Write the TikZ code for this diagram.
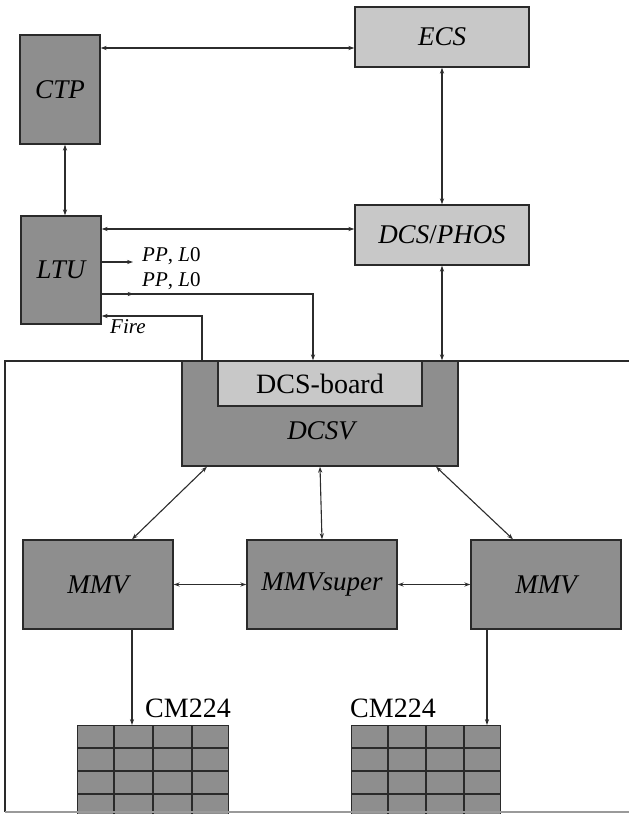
\documentclass[tikz,border=0pt]{standalone}
\usepackage{fontspec}
\setmainfont{Liberation Serif}
\usetikzlibrary{arrows.meta,decorations.markings}
\definecolor{darkbox}{HTML}{8E8E8E}
\definecolor{lightbox}{HTML}{C8C8C8}
\definecolor{edgecol}{HTML}{2A2A2A}
\definecolor{linecol}{HTML}{2C2C2C}
\definecolor{bottomcol}{HTML}{9A9A9A}
\begin{document}
\begin{tikzpicture}[x=1pt,y=-1pt,
  >={Stealth[length=6pt,width=4.2pt]},
  box/.style={draw=edgecol, line width=1.4pt, inner sep=0pt, font=\fontsize{27}{29}\selectfont\itshape},
  dbox/.style={box, fill=darkbox},
  lbox/.style={box, fill=lightbox},
  conn/.style={draw=linecol, line width=1.1pt},
  smalllab/.style={font=\fontsize{21}{23}\selectfont, inner sep=0pt, anchor=west},
  cmlab/.style={font=\fontsize{28}{30}\selectfont, inner sep=0pt},
  gridbox/.style={draw=edgecol, fill=darkbox, line width=1.4pt, inner sep=0pt, anchor=north west},
  gridline/.style={draw=edgecol, line width=1.4pt},
  midtip/.style={postaction={decorate}, decoration={markings, mark=at position 32pt with {\arrow{Stealth[length=6pt,width=4.2pt]}}}}
]
\useasboundingbox (0,0) rectangle (629,814);

% helper coordinates for connector levels
\coordinate (y48) at (0,48);
\coordinate (y229) at (0,229);
\coordinate (y262) at (0,262);
\coordinate (y294) at (0,294);
\coordinate (y316) at (0,316);
\coordinate (x65) at (65,0);
\coordinate (x132) at (132,0);
\coordinate (x202) at (202,0);
\coordinate (x207) at (207,0);
\coordinate (x313) at (313,0);
\coordinate (x436) at (436,0);
\coordinate (x487) at (487,0);
\coordinate (x513) at (513,0);
\coordinate (pp1end) at (133,262);

% outer frame
\draw[draw=edgecol, line width=1.4pt] (640,361) -- (5,361) -- (5,812);

% top boxes
\node[dbox, minimum width=80pt, minimum height=109pt] (ctp) at (60,89.5) {CTP};
\node[dbox, minimum width=80pt, minimum height=108pt] (ltu) at (61,270) {LTU};
\node[lbox, minimum width=174pt, minimum height=60pt] (ecs) at (442,37) {ECS};
\node[lbox, minimum width=174pt, minimum height=60pt] (dcsphos) at (442,235) {\textit{DCS}\upshape/\textit{PHOS}};

% DCSV with DCS-board
\node[dbox, minimum width=276pt, minimum height=105pt] (dcsv) at (320,413.5) {};
\node[lbox, minimum width=204pt, minimum height=45pt, font=\fontsize{28}{30}\selectfont\upshape] (board) at (320,383.5) {DCS-board};
\node[font=\fontsize{27}{29}\selectfont\itshape, inner sep=0pt] (dcsvlab) at (321,431) {DCSV};

% MMV row
\node[dbox, minimum width=150pt, minimum height=89pt] (mmvL) at (98,584.5) {MMV};
\node[dbox, minimum width=150pt, minimum height=89pt] (mmvS) at (322,584.5) {MMVsuper};
\node[dbox, minimum width=150pt, minimum height=89pt] (mmvR) at (546,584.5) {MMV};

% CM224 grids
\node[gridbox, minimum width=151pt, minimum height=92pt] (gridL) at (77,725) {};
\foreach \gx in {114,153,192} \draw[gridline] (\gx,725) -- (\gx,817);
\foreach \gy in {748,771,794} \draw[gridline] (77,\gy) -- (228,\gy);
\node[gridbox, minimum width=149pt, minimum height=92pt] (gridR) at (351,725) {};
\foreach \gx in {388,426,464} \draw[gridline] (\gx,725) -- (\gx,817);
\foreach \gy in {748,771,794} \draw[gridline] (351,\gy) -- (500,\gy);
\node[cmlab] (cmL) at (188,708) {CM224};
\node[cmlab] (cmR) at (393,708) {CM224};

% bottom edge of frame
\draw[draw=bottomcol, line width=1.6pt] (5,812) -- (640,812);

% connectors
\draw[conn,<->] (ctp.east |- y48) -- (ecs.west |- y48);
\draw[conn,<->] (ctp.south -| x65) -- (ltu.north -| x65);
\draw[conn,<->] (ecs.south) -- (dcsphos.north);
\draw[conn,<->] (ltu.east |- y229) -- (dcsphos.west |- y229);
\draw[conn,<->] (dcsphos.south) -- (dcsv.north -| dcsphos.south);
\draw[conn,->] (ltu.east |- y262) -- (pp1end);
\draw[conn,->,midtip] (ltu.east |- y294) -| (board.north -| x313);
\draw[conn,->] (dcsv.north -| x202) |- (ltu.east |- y316);

\draw[conn,<->] (dcsv.south -| x207) -- (mmvL.north -| x132);
\draw[conn,<->] (dcsv.south) -- (mmvS.north);
\draw[conn,<->] (dcsv.south -| x436) -- (mmvR.north -| x513);
\draw[conn,<->] (mmvL.east) -- (mmvS.west);
\draw[conn,<->] (mmvS.east) -- (mmvR.west);
\draw[conn,->] (mmvL.south -| x132) -- (gridL.north -| x132);
\draw[conn,->] (mmvR.south -| x487) -- (gridR.north -| x487);

% small labels
\node[smalllab] (pp1) at (142,256) {\textit{PP}, \textit{L}0};
\node[smalllab] (pp2) at (142,281) {\textit{PP}, \textit{L}0};
\node[smalllab] (fire) at (110,327) {\textit{Fire}};
\end{tikzpicture}
\end{document}
